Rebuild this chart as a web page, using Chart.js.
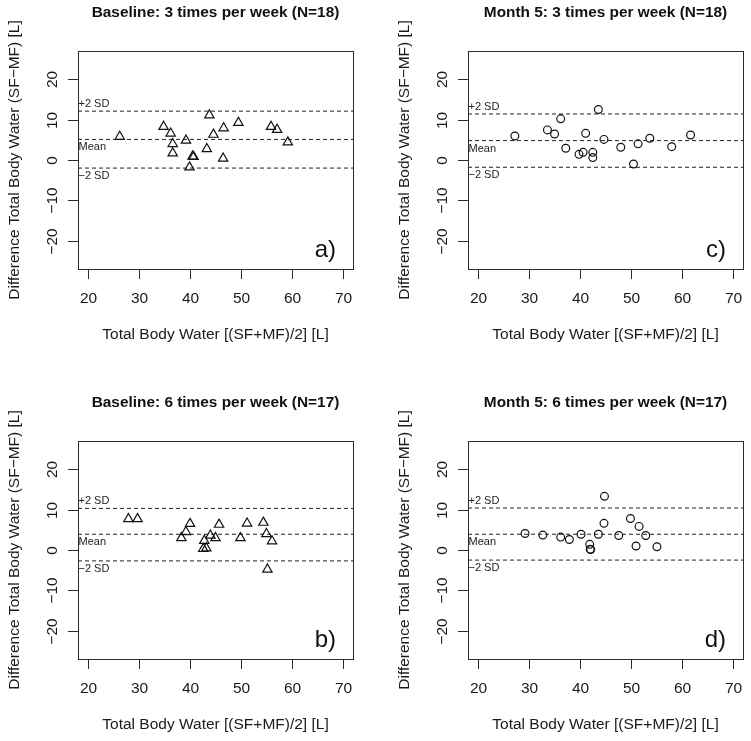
<!DOCTYPE html>
<html>
<head>
<meta charset="utf-8">
<script src="https://cdn.jsdelivr.net/npm/chart.js@4.4.1/dist/chart.umd.min.js"></script>
<style>
  html, body { margin: 0; padding: 0; background: #ffffff; }
  #wrap { position: relative; width: 751px; height: 741px; background: #fff; overflow: hidden; }
  canvas { position: absolute; }
</style>
</head>
<body>
<div id="wrap">
  <canvas id="cA" width="361" height="351" style="left:0px;top:0px"></canvas>
  <canvas id="cC" width="361" height="351" style="left:390px;top:0px"></canvas>
  <canvas id="cB" width="361" height="351" style="left:0px;top:390px"></canvas>
  <canvas id="cD" width="361" height="351" style="left:390px;top:390px"></canvas>
</div>
<script>
// ---- Data ----
const xTickLabels = [20, 30, 40, 50, 60, 70];
const yTickLabels = [-20, -10, 0, 10, 20];

// a) Baseline: 3 times per week (N=18)
const baseline3X = [26.2, 34.8, 36.2, 36.6, 36.6, 39.2, 40.5, 40.7, 39.9, 43.8, 44.6, 43.3, 46.6, 46.5, 49.5, 55.9, 57.1, 59.2];
const baseline3Y = [5.8, 8.25, 6.6, 4.0, 1.7, 4.85, 0.9, 0.8, -1.8, 11.1, 6.3, 2.75, 7.9, 0.4, 9.25, 8.25, 7.5, 4.4];
const baseline3Lines = [12.1, 5.1, -2.0];   // +2 SD, Mean, -2 SD

// c) Month 5: 3 times per week (N=18)
const month3X = [27.2, 33.6, 35.0, 36.2, 37.2, 39.8, 40.6, 41.1, 42.5, 42.5, 43.6, 44.7, 48.0, 50.5, 51.4, 53.7, 58.0, 61.7];
const month3Y = [5.95, 7.45, 6.45, 10.2, 2.9, 1.4, 1.9, 6.6, 1.9, 0.6, 12.5, 5.1, 3.15, -1.0, 4.0, 5.4, 3.3, 6.2];
const month3Lines = [11.4, 4.8, -1.8];

// b) Baseline: 6 times per week (N=17)
const baseline6X = [27.9, 29.7, 38.3, 39.2, 40.0, 42.8, 42.6, 43.2, 44.0, 45.0, 45.7, 49.9, 51.2, 54.4, 55.0, 56.1, 55.2];
const baseline6Y = [7.7, 7.7, 3.0, 4.5, 6.5, 2.3, 0.3, 0.45, 3.6, 3.0, 6.3, 3.0, 6.6, 6.8, 4.0, 2.2, -4.8];
const baseline6Lines = [10.3, 3.9, -2.7];

// d) Month 5: 6 times per week (N=17)
const month6X = [29.2, 32.7, 36.2, 37.9, 40.2, 41.9, 42.0, 42.1, 43.6, 44.7, 44.8, 47.6, 49.9, 51.0, 51.6, 52.9, 55.1];
const month6Y = [4.1, 3.7, 3.2, 2.6, 3.9, 1.4, 0.2, 0.1, 3.9, 6.6, 13.3, 3.6, 7.8, 1.0, 5.85, 3.6, 0.8];
const month6Lines = [10.4, 3.9, -2.5];

const lineLabels = ['+2 SD', 'Mean', '\u22122 SD'];
const xRange = [18, 72];
const yRange = [-27, 27];
const xTitle = 'Total Body Water [(SF+MF)/2] [L]';
const yTitle = 'Difference Total Body Water (SF\u2212MF) [L]';

const FONT = '"Liberation Sans", Arial, Helvetica, sans-serif';

function fmt(v) { return String(v).replace('-', '\u2212'); }

function decorPlugin(title, letter, lv) {
  return {
    id: 'decor',
    afterDraw(chart) {
      const ctx = chart.ctx;
      const a = chart.chartArea;
      const xs = chart.scales.x, ys = chart.scales.y;
      ctx.save();
      // box
      ctx.strokeStyle = '#2a2a2a';
      ctx.lineWidth = 1;
      ctx.strokeRect(Math.round(a.left) + 0.5, Math.round(a.top) + 0.5,
                     Math.round(a.right - a.left), Math.round(a.bottom - a.top));
      // x ticks
      ctx.fillStyle = '#1a1a1a';
      ctx.font = '15.5px ' + FONT;
      ctx.textAlign = 'center';
      ctx.textBaseline = 'middle';
      xTickLabels.forEach(v => {
        const px = Math.round(xs.getPixelForValue(v)) + 0.5;
        ctx.beginPath();
        ctx.moveTo(px, a.bottom);
        ctx.lineTo(px, a.bottom + 10);
        ctx.stroke();
        ctx.fillText(String(v), px, a.bottom + 30);
      });
      // y ticks
      yTickLabels.forEach(v => {
        const py = Math.round(ys.getPixelForValue(v)) + 0.5;
        ctx.beginPath();
        ctx.moveTo(a.left - 10, py);
        ctx.lineTo(a.left, py);
        ctx.stroke();
        ctx.save();
        ctx.translate(a.left - 25, py);
        ctx.rotate(-Math.PI / 2);
        ctx.fillText(fmt(v), 0, 0);
        ctx.restore();
      });
      // axis titles
      const cx = (a.left + a.right) / 2;
      const cy = (a.top + a.bottom) / 2;
      ctx.fillText(xTitle, cx, a.bottom + 66);
      ctx.save();
      ctx.translate(15, cy);
      ctx.rotate(-Math.PI / 2);
      ctx.fillText(yTitle, 0, 0);
      ctx.restore();
      // panel title
      ctx.font = 'bold 15.4px ' + FONT;
      ctx.fillStyle = '#111';
      ctx.fillText(title, cx, 13);
      // SD / Mean labels
      ctx.font = '11px ' + FONT;
      ctx.fillStyle = '#222';
      ctx.textAlign = 'left';
      ctx.fillText(lineLabels[0], a.left + 0.5, ys.getPixelForValue(lv[0]) - 7);
      ctx.fillText(lineLabels[1], a.left + 0.5, ys.getPixelForValue(lv[1]) + 8);
      ctx.fillText(lineLabels[2], a.left + 0.5, ys.getPixelForValue(lv[2]) + 8);
      // corner letter
      ctx.font = '24px ' + FONT;
      ctx.fillStyle = '#111';
      ctx.textAlign = 'right';
      ctx.textBaseline = 'alphabetic';
      ctx.fillText(letter, a.right - 17, a.bottom - 12);
      ctx.restore();
    }
  };
}

function makePanel(id, xs, ys, lines, style, radius, title, letter) {
  const pts = xs.map((x, i) => ({ x: x, y: ys[i] }));
  const lineSets = lines.map(v => ({
    type: 'line',
    data: [{ x: xRange[0], y: v }, { x: xRange[1], y: v }],
    borderColor: '#222',
    borderWidth: 1,
    borderDash: [4, 3],
    pointRadius: 0,
    fill: false
  }));
  return new Chart(document.getElementById(id), {
    type: 'scatter',
    data: {
      datasets: [{
        data: pts,
        pointStyle: style,
        radius: radius,
        pointRadius: radius,
        borderColor: '#111',
        backgroundColor: 'rgba(0,0,0,0)',
        borderWidth: 1.2,
        showLine: false
      }].concat(lineSets)
    },
    options: {
      responsive: false,
      animation: false,
      devicePixelRatio: 1,
      layout: { padding: { left: 78, top: 51, right: 8, bottom: 82 } },
      plugins: { legend: { display: false }, tooltip: { enabled: false }, title: { display: false } },
      scales: {
        x: { type: 'linear', min: xRange[0], max: xRange[1], display: false },
        y: { type: 'linear', min: yRange[0], max: yRange[1], display: false }
      }
    },
    plugins: [decorPlugin(title, letter, lines)]
  });
}

makePanel('cA', baseline3X, baseline3Y, baseline3Lines, 'triangle', 5.4, 'Baseline: 3 times per week (N=18)', 'a)');
makePanel('cC', month3X, month3Y, month3Lines, 'circle', 3.9, 'Month 5: 3 times per week (N=18)', 'c)');
makePanel('cB', baseline6X, baseline6Y, baseline6Lines, 'triangle', 5.4, 'Baseline: 6 times per week (N=17)', 'b)');
makePanel('cD', month6X, month6Y, month6Lines, 'circle', 3.9, 'Month 5: 6 times per week (N=17)', 'd)');
</script>
</body>
</html>
